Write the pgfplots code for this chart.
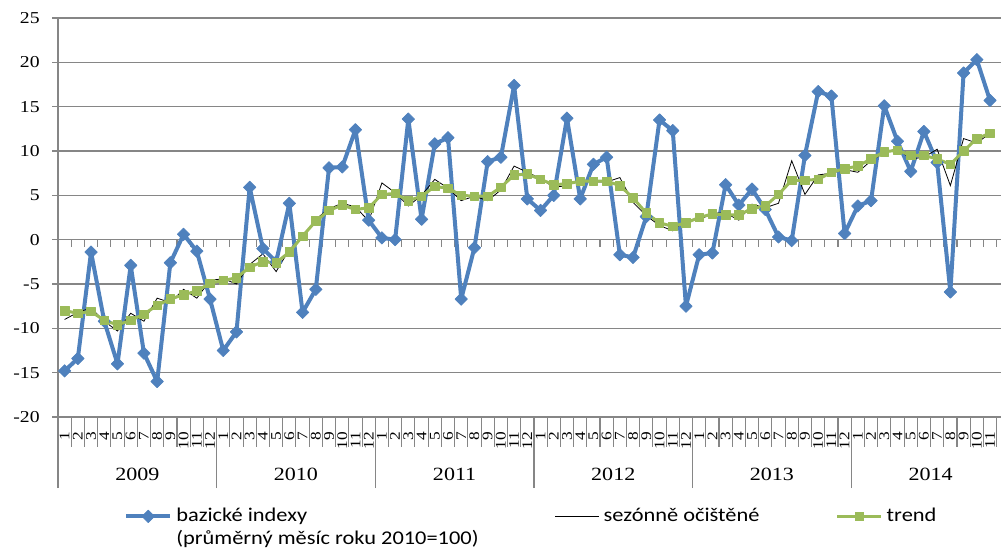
\documentclass[border=0pt]{standalone}
\usepackage{fontspec}
\setmainfont{Liberation Serif}[FakeStretch=1.18]
\newfontfamily\legfont{Carlito}[FakeStretch=1.15]
\usepackage{pgfplots}
\usepackage{pgfplotstable}
\pgfplotsset{compat=1.18}
\definecolor{serblue}{HTML}{4F81BD}
\definecolor{sergreen}{HTML}{9BBB59}
\definecolor{gridgray}{HTML}{868686}

\pgfplotstableread{
i b s t
1 -14.8 -9.0 -8.0
2 -13.4 -8.2 -8.3
3 -1.4 -7.7 -8.1
4 -9.2 -9.2 -9.1
5 -14.0 -10.3 -9.6
6 -2.9 -8.3 -9.1
7 -12.8 -9.2 -8.4
8 -16.0 -6.6 -7.4
9 -2.6 -7.1 -6.7
10 0.6 -5.6 -6.2
11 -1.3 -6.6 -5.8
12 -6.7 -4.6 -4.9
13 -12.5 -4.4 -4.6
14 -10.4 -5.0 -4.3
15 5.9 -2.8 -3.1
16 -1.0 -1.6 -2.5
17 -2.5 -3.6 -2.6
18 4.1 -1.1 -1.4
19 -8.2 0.3 0.4
20 -5.6 2.3 2.1
21 8.1 3.5 3.3
22 8.2 4.1 3.9
23 12.4 3.7 3.4
24 2.2 2.1 3.6
25 0.2 6.4 5.1
26 0.0 5.3 5.2
27 13.6 3.8 4.4
28 2.3 5.0 4.9
29 10.8 6.8 6.0
30 11.5 5.8 5.8
31 -6.7 4.4 5.0
32 -0.9 4.9 4.9
33 8.8 4.4 4.9
34 9.3 5.6 5.9
35 17.4 8.3 7.3
36 4.6 7.6 7.4
37 3.3 6.9 6.8
38 5.0 5.9 6.2
39 13.7 6.1 6.3
40 4.6 6.8 6.6
41 8.5 6.5 6.6
42 9.3 6.5 6.6
43 -1.7 7.0 6.1
44 -2.0 4.2 4.7
45 2.6 2.7 3.0
46 13.5 1.6 1.9
47 12.3 1.0 1.5
48 -7.5 2.3 1.9
49 -1.7 2.2 2.5
50 -1.5 3.0 2.9
51 6.2 3.0 2.8
52 3.9 2.2 2.8
53 5.7 4.0 3.5
54 3.4 3.6 3.8
55 0.3 4.1 5.1
56 -0.1 8.9 6.7
57 9.5 5.1 6.7
58 16.7 7.3 6.8
59 16.2 7.5 7.6
60 0.7 7.9 8.0
61 3.8 7.6 8.3
62 4.4 8.9 9.1
63 15.1 9.8 9.9
64 11.1 10.3 10.1
65 7.7 9.1 9.5
66 12.2 9.3 9.5
67 8.7 10.2 9.1
68 -5.9 6.1 8.5
69 18.8 11.4 10.0
70 20.3 10.9 11.4
71 15.7 12.0 12.0
}\data

\pgfplotsset{
  common/.style={
    at={(43.5pt,99.75pt)}, anchor=south west,
    scale only axis, width=707.25pt, height=299.25pt,
    xmin=0.5, xmax=71.83, ymin=-20, ymax=25,
  }
}

\begin{document}
\begin{tikzpicture}
% year separators (and extension of the left axis line)
\begin{axis}[common, axis x line*=bottom, axis y line=none,
  xtick={0.5,12.5,24.5,36.5,48.5,60.5}, xticklabels={},
  tick align=outside, major tick length=53.25pt,
  x axis line style={gridgray, line width=1pt},
  xtick style={gridgray, line width=1pt}]
\end{axis}
% small ticks on the zero line
\begin{axis}[common, axis x line*=middle, axis y line=none,
  xtick={0.5,1.5,...,71.5}, xticklabels={},
  tick align=outside, major tick length=5.25pt,
  x axis line style={gridgray, line width=1pt},
  xtick style={gridgray, line width=0.8pt}]
\end{axis}
% main axis
\begin{axis}[common,
  axis lines*=left,
  axis line style={gridgray, line width=1pt},
  /pgf/number format/assume math mode=true,
  ymajorgrids, grid style={gridgray, line width=1pt},
  ytick={-20,-15,...,25},
  tick align=outside,
  ytick style={/pgfplots/major tick length=4.5pt, gridgray, line width=1pt},
  xtick={1,...,71},
  minor xtick={0.5,1.5,...,71.5},
  xtick style={/pgfplots/major tick length=0pt, /pgfplots/minor tick length=22.5pt, gridgray, line width=0.8pt},
  yticklabel style={font=\fontsize{12.5pt}{14pt}\selectfont, black, xshift=-6pt},
  xticklabels={1,2,3,4,5,6,7,8,9,10,11,12,1,2,3,4,5,6,7,8,9,10,11,12,1,2,3,4,5,6,7,8,9,10,11,12,1,2,3,4,5,6,7,8,9,10,11,12,1,2,3,4,5,6,7,8,9,10,11,12,1,2,3,4,5,6,7,8,9,10,11},
  xticklabel style={yshift=-7pt, rotate=90, anchor=east, font=\fontsize{11pt}{13pt}\selectfont, black, inner sep=0pt},
  extra x ticks={6.5,18.5,30.5,42.5,54.5,66.5},
  extra x tick labels={2009,2010,2011,2012,2013,2014},
  extra x tick style={/pgfplots/major tick length=0pt,
     xticklabel style={rotate=-90, anchor=center, yshift=-36pt, font=\fontsize{14pt}{16pt}\selectfont}},
  legend columns=3,
  legend style={at={(0.07,-0.22)}, anchor=north west, draw=none, fill=none,
     inner sep=0pt, column sep=3pt,
     cells={anchor=base west},
     nodes={inner sep=0pt, text depth=0pt, font=\legfont\fontsize{14.6pt}{17.25pt}\selectfont}},
  legend image code/.code={\draw[mark repeat=2,mark phase=2,#1] plot coordinates {(0pt,3.6pt) (16.5pt,3.6pt) (33pt,3.6pt)};},
]
\addplot[serblue, line width=3pt, line join=round, mark=square*, mark size=3.3pt,
  mark options={rotate=45, line width=0.5pt, fill=serblue}] table[x=i,y=b]{\data};
\addlegendentry{\makebox[281pt][l]{\begin{tabular}[t]{@{}l@{}}bazické indexy\\(průměrný měsíc roku 2010=100)\end{tabular}}}
\addplot[black, line width=0.6pt, no marks] table[x=i,y=s]{\data};
\addlegendentry{\makebox[171pt][l]{sezónně očištěné}}
\addplot[sergreen, line width=2.25pt, line join=round, mark=square*, mark size=3.2pt,
  mark options={line width=0.5pt, fill=sergreen}] table[x=i,y=t]{\data};
\addlegendentry{trend}
\end{axis}
\pgfresetboundingbox
\path[use as bounding box] (0,0) rectangle (750.75pt,412.5pt);
\end{tikzpicture}
\end{document}
